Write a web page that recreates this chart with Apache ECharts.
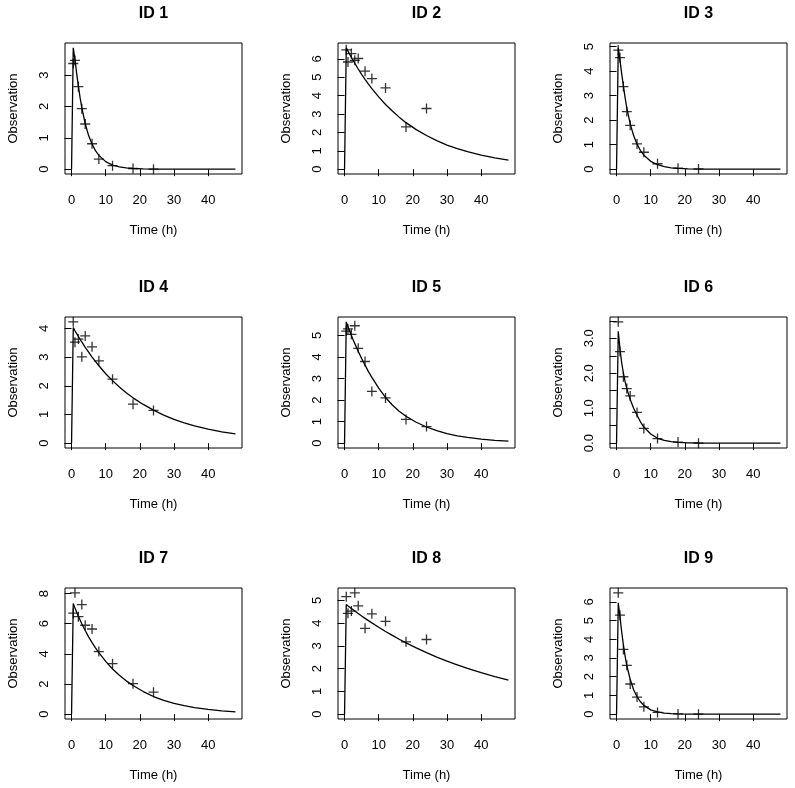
<!DOCTYPE html>
<html>
<head>
<meta charset="utf-8">
<script src="https://cdn.jsdelivr.net/npm/echarts@6/dist/echarts.min.js"></script>
<style>
  html, body { margin: 0; padding: 0; background: #fff; }
  #chart { width: 795px; height: 788px; }
</style>
</head>
<body>
<div id="chart"></div>
<script>
// ---------------- DATA ----------------
const panelTitles = ['ID 1', 'ID 2', 'ID 3', 'ID 4', 'ID 5', 'ID 6', 'ID 7', 'ID 8', 'ID 9'];
const xTickValues = [0, 10, 20, 30, 40];

// observation sampling times (h)
const obsTime = [0.5, 1, 2, 3, 4, 6, 8, 12, 18, 24];
// fitted-curve times (h)
const curveTime = [0, 0.5, 1, 1.5, 2, 2.5, 3, 4, 5, 6, 7, 8, 10, 12, 14, 16, 18, 21, 24, 27, 30, 33, 36, 40, 44, 48];

// observations
const obsID1 = [3.37, 3.47, 2.63, 1.93, 1.44, 0.81, 0.32, 0.11, 0.02, 0.0];
const obsID2 = [6.49, 5.83, 6.29, 5.92, 6.02, 5.33, 4.93, 4.42, 2.30, 3.30];
const obsID3 = [4.86, 4.55, 3.37, 2.35, 1.79, 1.03, 0.69, 0.22, 0.04, 0.01];
const obsID4 = [4.23, 3.52, 3.63, 3.01, 3.74, 3.36, 2.87, 2.23, 1.36, 1.14];
const obsID5 = [5.20, 5.30, 5.05, 5.45, 4.40, 3.79, 2.40, 2.10, 1.10, 0.77];
const obsID6 = [3.47, 2.62, 1.90, 1.56, 1.35, 0.88, 0.42, 0.13, 0.03, 0.0];
const obsID7 = [6.70, 8.05, 6.47, 7.27, 5.90, 5.65, 4.15, 3.35, 2.02, 1.46];
const obsID8 = [5.16, 4.43, 4.53, 5.33, 4.76, 3.77, 4.41, 4.08, 3.18, 3.28];
const obsID9 = [6.48, 5.29, 3.46, 2.61, 1.61, 0.91, 0.39, 0.09, 0.01, 0.0];

// fitted curves (values at curveTime)
const fitID1 = [0, 3.87, 3.50, 3.05, 2.65, 2.28, 1.96, 1.45, 1.07, 0.80, 0.59, 0.44, 0.24, 0.13, 0.07, 0.04, 0.02, 0.008, 0.003, 0.001, 0, 0, 0, 0, 0, 0];
const fitID2 = [0, 6.60, 6.42, 6.25, 6.08, 5.92, 5.76, 5.45, 5.16, 4.89, 4.63, 4.38, 3.93, 3.52, 3.16, 2.83, 2.53, 2.15, 1.83, 1.55, 1.31, 1.12, 0.95, 0.76, 0.61, 0.49];
const fitID3 = [0, 4.95, 4.45, 3.90, 3.40, 2.92, 2.50, 1.85, 1.37, 1.02, 0.76, 0.57, 0.32, 0.18, 0.10, 0.055, 0.03, 0.012, 0.005, 0.002, 0.001, 0, 0, 0, 0, 0];
const fitID4 = [0, 4.03, 3.92, 3.82, 3.72, 3.62, 3.53, 3.34, 3.17, 3.00, 2.85, 2.70, 2.42, 2.18, 1.96, 1.76, 1.58, 1.35, 1.15, 0.98, 0.83, 0.71, 0.60, 0.49, 0.39, 0.32];
const fitID5 = [0, 5.63, 5.40, 5.20, 5.00, 4.80, 4.62, 4.27, 3.93, 3.62, 3.32, 3.05, 2.55, 2.12, 1.77, 1.48, 1.25, 0.97, 0.75, 0.58, 0.44, 0.34, 0.27, 0.19, 0.13, 0.095];
const fitID6 = [0, 3.20, 2.70, 2.30, 2.00, 1.76, 1.56, 1.25, 1.00, 0.80, 0.61, 0.46, 0.26, 0.14, 0.08, 0.045, 0.025, 0.01, 0.004, 0.002, 0.001, 0, 0, 0, 0, 0];
const fitID7 = [0, 7.34, 7.05, 6.77, 6.50, 6.25, 6.00, 5.55, 5.13, 4.75, 4.40, 4.08, 3.50, 3.00, 2.58, 2.21, 1.90, 1.50, 1.17, 0.91, 0.71, 0.56, 0.43, 0.31, 0.22, 0.15];
const fitID8 = [0, 4.82, 4.76, 4.70, 4.65, 4.59, 4.53, 4.42, 4.31, 4.21, 4.11, 4.01, 3.82, 3.63, 3.46, 3.29, 3.13, 2.91, 2.70, 2.51, 2.33, 2.17, 2.01, 1.82, 1.65, 1.50];
const fitID9 = [0, 5.95, 5.20, 4.40, 3.70, 3.10, 2.60, 1.85, 1.30, 0.93, 0.66, 0.47, 0.23, 0.12, 0.06, 0.03, 0.015, 0.005, 0.002, 0.001, 0, 0, 0, 0, 0, 0];

// y-axis tick values and labelled values per panel
const yTicksID1 = [0, 1, 2, 3];
const yTicksID2 = [0, 1, 2, 3, 4, 5, 6];
const yTicksID3 = [0, 1, 2, 3, 4, 5];
const yTicksID4 = [0, 1, 2, 3, 4];
const yTicksID5 = [0, 1, 2, 3, 4, 5];
const yTicksID6 = [0, 0.5, 1, 1.5, 2, 2.5, 3, 3.5];
const yTicksID7 = [0, 2, 4, 6, 8];
const yTicksID8 = [0, 1, 2, 3, 4, 5];
const yTicksID9 = [0, 1, 2, 3, 4, 5, 6];
const yLabelsID6 = [0, 1, 2, 3];

// ---------------- LAYOUT / STYLE ----------------
const FONT = '"Liberation Sans", Arial, Helvetica, sans-serif';
const colLeft = [65, 338, 610];
const rowTop = [43, 317, 588];
const W = 177, H = 131;

const obsAll = [obsID1, obsID2, obsID3, obsID4, obsID5, obsID6, obsID7, obsID8, obsID9];
const fitAll = [fitID1, fitID2, fitID3, fitID4, fitID5, fitID6, fitID7, fitID8, fitID9];
const yTicksAll = [yTicksID1, yTicksID2, yTicksID3, yTicksID4, yTicksID5, yTicksID6, yTicksID7, yTicksID8, yTicksID9];
const yLabelsAll = [yTicksID1, yTicksID2, yTicksID3, yTicksID4, yTicksID5, yLabelsID6, yTicksID7, yTicksID8, yTicksID9];

const grids = [], xAxes = [], yAxes = [], series = [], graphics = [];
const xMinD = Math.min(...curveTime, ...obsTime), xMaxD = Math.max(...curveTime, ...obsTime);
const xPad = 0.04 * (xMaxD - xMinD);

for (let i = 0; i < 9; i++) {
  const r = Math.floor(i / 3), c = i % 3;
  const yMaxD = Math.max(...obsAll[i], ...fitAll[i]);
  const yMinD = Math.min(...obsAll[i], ...fitAll[i]);
  const yPad = 0.04 * (yMaxD - yMinD);
  grids.push({
    left: colLeft[c], top: rowTop[r], width: W, height: H,
    show: true, borderColor: '#000', borderWidth: 1, backgroundColor: 'transparent'
  });
  xAxes.push({
    type: 'value', gridIndex: i, min: xMinD - xPad, max: xMaxD + xPad,
    axisLine: { show: false }, splitLine: { show: false },
    axisTick: { show: true, inside: false, length: 7, lineStyle: { color: '#000', width: 1 }, customValues: xTickValues },
    axisLabel: { customValues: xTickValues, color: '#000', fontSize: 13, fontFamily: FONT, margin: 20 },
    name: 'Time (h)', nameLocation: 'middle', nameGap: 50,
    nameTextStyle: { color: '#000', fontSize: 13, fontFamily: FONT }
  });
  const isDec = (i === 5);
  yAxes.push({
    type: 'value', gridIndex: i, min: yMinD - yPad, max: yMaxD + yPad,
    axisLine: { show: false }, splitLine: { show: false },
    axisTick: { show: true, inside: false, length: 7, lineStyle: { color: '#000', width: 1 }, customValues: yTicksAll[i] },
    axisLabel: {
      customValues: yLabelsAll[i], color: '#000', fontSize: 13, fontFamily: FONT, margin: 14, rotate: 90,
      formatter: v => isDec ? Number(v).toFixed(1) : String(v)
    },
    name: 'Observation', nameLocation: 'middle', nameGap: 45,
    nameTextStyle: { color: '#000', fontSize: 13, fontFamily: FONT }
  });
  series.push({
    type: 'line', xAxisIndex: i, yAxisIndex: i,
    data: curveTime.map((t, j) => [t, fitAll[i][j]]),
    showSymbol: false, symbol: 'none', smooth: false,
    lineStyle: { color: '#000', width: 1.3 }, silent: true
  });
  series.push({
    type: 'scatter', xAxisIndex: i, yAxisIndex: i,
    data: obsTime.map((t, j) => [t, obsAll[i][j]]),
    symbol: 'path://M0,5L10,5M5,0L5,10', symbolSize: 10,
    itemStyle: { color: 'rgba(0,0,0,0)', borderColor: '#000', borderWidth: 1.3 }, silent: true
  });
  graphics.push({
    type: 'text', x: colLeft[c] + W / 2, y: rowTop[r] - 29,
    style: { text: panelTitles[i], font: 'bold 16px ' + FONT, fill: '#000', align: 'center', verticalAlign: 'middle', textAlign: 'center', textVerticalAlign: 'middle' }
  });
}

const chart = echarts.init(document.getElementById('chart'), null, { renderer: 'canvas' });
chart.setOption({
  animation: false,
  backgroundColor: '#fff',
  grid: grids, xAxis: xAxes, yAxis: yAxes, series: series,
  graphic: graphics
});
</script>
</body>
</html>
